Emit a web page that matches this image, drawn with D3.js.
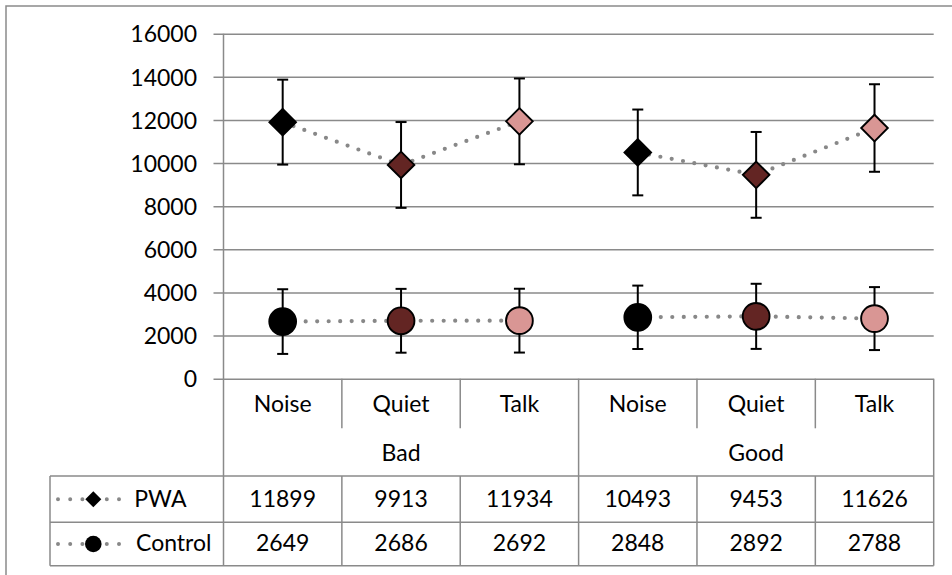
<!DOCTYPE html>
<html>
<head>
<meta charset="utf-8">
<script src="https://cdn.jsdelivr.net/npm/d3@7"></script>
<style>
  html, body { margin: 0; padding: 0; background: #fff; }
  svg { display: block; font-family: Lato, "Open Sans", sans-serif; }
</style>
</head>
<body>
<svg id="chart" width="952" height="575"></svg>
<script>
// ---- data ----
const conditions = ["Noise", "Quiet", "Talk"];
const groups = ["Bad", "Good"];
const seriesNames = ["PWA", "Control"];
const pwaValues = [11899, 9913, 11934, 10493, 9453, 11626];
const controlValues = [2649, 2686, 2692, 2848, 2892, 2788];
const pwaErrors = [1970, 1990, 1990, 1990, 1990, 2030];
const controlErrors = [1500, 1480, 1480, 1470, 1510, 1460];
const yTickValues = [0, 2000, 4000, 6000, 8000, 10000, 12000, 14000, 16000];

(function () {
// ---- styles ----
const conditionColors = ["#000000", "#632523", "#d99694"];
const gridColor = "#8a8a8a";
const fontSize = 23;

const svg = d3.select("#chart");

// outer frame
svg.append("rect").attr("x", 6).attr("y", 6).attr("width", 960).attr("height", 590)
  .attr("fill", "none").attr("stroke", gridColor).attr("stroke-width", 1.5);

const pLeft = 223.5, pRight = 933.7, pTop = 33.7, pBottom = 378.7;
const catRowBottom = 428.3, groupRowBottom = 476, tableRow1 = 522.3, tableBottom = 565.7;
const tableLeft = 50;

const cells = [];
groups.forEach((g, gi) => conditions.forEach((c, ci) => cells.push({ key: gi * 3 + ci, group: g, cond: c, ci, gi })));

const x = d3.scaleBand().domain(cells.map(d => d.key)).range([pLeft, pRight]).padding(0);
const y = d3.scaleLinear().domain([0, 16000]).range([pBottom, pTop]);

// gridlines
const gridAxis = d3.axisLeft(y).tickValues(yTickValues).tickSize(pRight - (pLeft - 10)).tickFormat("");
const gG = svg.append("g").attr("transform", `translate(${pRight},0)`).call(gridAxis);
gG.select(".domain").remove();
gG.selectAll(".tick line").attr("stroke", gridColor).attr("stroke-width", 1.5);

// y labels
const yAxis = d3.axisLeft(y).tickValues(yTickValues).tickSize(0).tickPadding(26.5).tickFormat(d3.format("d"));
const yG = svg.append("g").attr("transform", `translate(${pLeft},0)`).call(yAxis);
yG.select(".domain").remove();
yG.selectAll(".tick text").attr("font-size", fontSize).attr("font-family", "Lato, sans-serif")
  .attr("fill", "#000").attr("dy", "0.36em");

// structural lines (category axis + table)
const lines = svg.append("g").attr("stroke", gridColor).attr("stroke-width", 1.5).attr("fill", "none");
const bounds = cells.map(d => x(d.key)).concat([pRight]);
bounds.forEach((bx, i) => {
  const isGroupEdge = (i % 3 === 0);
  if (isGroupEdge) {
    lines.append("line").attr("x1", bx).attr("x2", bx)
      .attr("y1", i === 0 ? pTop : pBottom).attr("y2", tableBottom);
  } else {
    lines.append("line").attr("x1", bx).attr("x2", bx).attr("y1", pBottom).attr("y2", catRowBottom);
    lines.append("line").attr("x1", bx).attr("x2", bx).attr("y1", groupRowBottom).attr("y2", tableBottom);
  }
});
[groupRowBottom, tableRow1, tableBottom].forEach(ly => {
  lines.append("line").attr("x1", tableLeft).attr("x2", pRight).attr("y1", ly).attr("y2", ly);
});
lines.append("line").attr("x1", tableLeft).attr("x2", tableLeft).attr("y1", groupRowBottom).attr("y2", tableBottom);

// category labels
const txt = svg.append("g").attr("font-size", fontSize).attr("fill", "#000").attr("text-anchor", "middle");
cells.forEach(d => {
  txt.append("text").attr("x", x(d.key) + x.bandwidth() / 2).attr("y", 411.7).text(d.cond);
});
groups.forEach((g, gi) => {
  const x0 = x(gi * 3), x1 = x(gi * 3 + 2) + x.bandwidth();
  txt.append("text").attr("x", (x0 + x1) / 2).attr("y", 460.7).text(g);
});
// table values
cells.forEach((d, i) => {
  txt.append("text").attr("x", x(d.key) + x.bandwidth() / 2).attr("y", 506.7).text(pwaValues[i]);
  txt.append("text").attr("x", x(d.key) + x.bandwidth() / 2).attr("y", 550.7).text(controlValues[i]);
});

// ---- series ----
const cx = i => x(i) + x.bandwidth() / 2;
const lineGen = d3.line().x(d => cx(d.i)).y(d => y(d.v));
const dotted = sel => sel.attr("fill", "none").attr("stroke", "#888888").attr("stroke-width", 4.2)
  .attr("stroke-linecap", "round").attr("stroke-dasharray", "0 11.5");

const plot = svg.append("g");
function drawSeries(values, errors, shape) {
  groups.forEach((g, gi) => {
    const pts = [0, 1, 2].map(ci => ({ i: gi * 3 + ci, v: values[gi * 3 + ci] }));
    plot.append("path").attr("d", lineGen(pts)).call(dotted);
  });
  values.forEach((v, i) => {
    const px = cx(i);
    const e = errors[i];
    const eb = plot.append("g").attr("stroke", "#000").attr("stroke-width", 2);
    eb.append("line").attr("x1", px).attr("x2", px).attr("y1", y(v + e)).attr("y2", y(v - e));
    eb.append("line").attr("x1", px - 5.5).attr("x2", px + 5.5).attr("y1", y(v + e)).attr("y2", y(v + e));
    eb.append("line").attr("x1", px - 5.5).attr("x2", px + 5.5).attr("y1", y(v - e)).attr("y2", y(v - e));
  });
  values.forEach((v, i) => {
    const px = cx(i), py = y(v);
    const col = conditionColors[i % 3];
    if (shape === "diamond") {
      const s = 13.3;
      plot.append("path").attr("d", `M${px},${py - s}L${px + s},${py}L${px},${py + s}L${px - s},${py}Z`)
        .attr("fill", col).attr("stroke", "#000").attr("stroke-width", 1.9);
    } else {
      plot.append("circle").attr("cx", px).attr("cy", py).attr("r", 13.4)
        .attr("fill", col).attr("stroke", "#000").attr("stroke-width", 1.9);
    }
  });
}
drawSeries(pwaValues, pwaErrors, "diamond");
drawSeries(controlValues, controlErrors, "circle");

// ---- legend keys in table ----
const leg = svg.append("g");
[{ yy: (groupRowBottom + tableRow1) / 2, shape: "diamond", name: seriesNames[0], ty: 506.7, tx: 134.3 },
 { yy: (tableRow1 + tableBottom) / 2, shape: "circle", name: seriesNames[1], ty: 550.7, tx: 136 }].forEach(k => {
  leg.append("line").attr("x1", 58).attr("x2", 123).attr("y1", k.yy).attr("y2", k.yy)
    .attr("stroke", "#888888").attr("stroke-width", 4).attr("stroke-linecap", "round").attr("stroke-dasharray", "0 12.2");
  const mx = 93.3;
  if (k.shape === "diamond") {
    const s = 8;
    leg.append("path").attr("d", `M${mx},${k.yy - s}L${mx + s},${k.yy}L${mx},${k.yy + s}L${mx - s},${k.yy}Z`).attr("fill", "#000");
  } else {
    leg.append("circle").attr("cx", mx).attr("cy", k.yy).attr("r", 8.3).attr("fill", "#000");
  }
  leg.append("text").attr("x", k.tx).attr("y", k.ty).attr("font-size", fontSize).attr("fill", "#000").text(k.name);
});
})();
</script>
</body>
</html>
